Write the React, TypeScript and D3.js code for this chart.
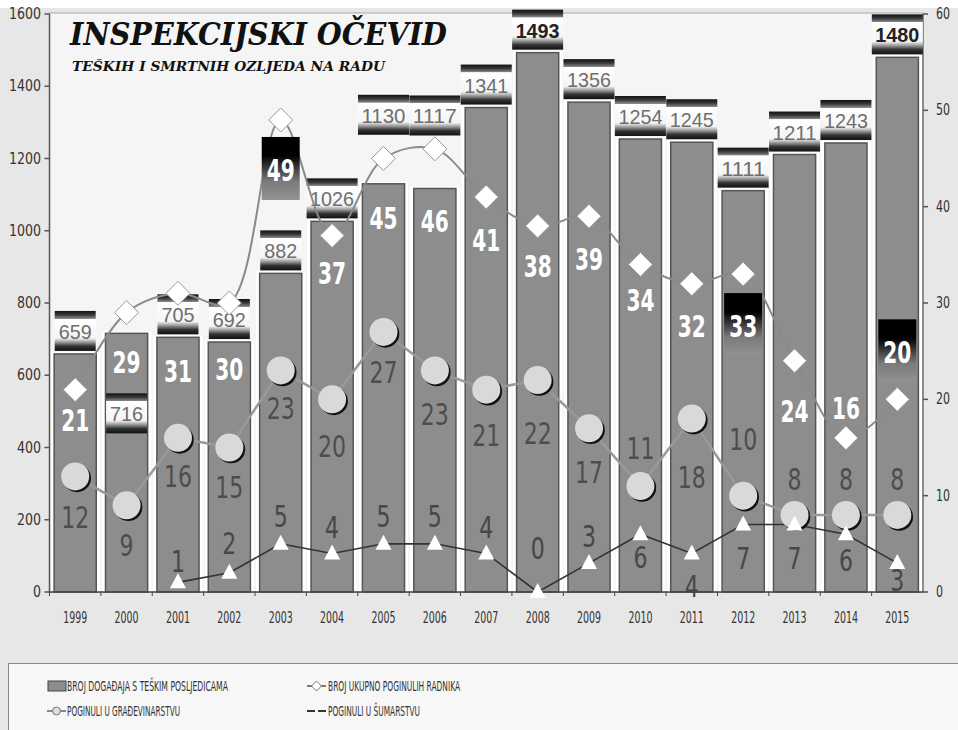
import React from 'react';
import * as d3 from 'd3';

const years = ['1999','2000','2001','2002','2003','2004','2005','2006','2007','2008','2009','2010','2011','2012','2013','2014','2015'];
const accidents = [659,716,705,692,882,1026,1130,1117,1341,1493,1356,1254,1245,1111,1211,1243,1480];
const totalDeaths = [21,29,31,30,49,37,45,46,41,38,39,34,32,33,24,16,20];
const constructionDeaths = [12,9,16,15,23,20,27,23,21,22,17,11,18,10,8,8,8];
const forestryDeaths: (number | null)[] = [null,null,1,2,5,4,5,5,4,0,3,6,4,7,7,6,3];
const leftTicks = [0,200,400,600,800,1000,1200,1400,1600];
const rightTicks = [0,10,20,30,40,50,60];
const highlightedTotalYears = ['2003','2012','2015'];

const titleText = 'INSPEKCIJSKI OČEVID';
const subtitleText = 'TEŠKIH I SMRTNIH OZLJEDA NA RADU';
const legendBars = 'BROJ DOGAĐAJA S TEŠKIM POSLJEDICAMA';
const legendTotal = 'BROJ UKUPNO POGINULIH RADNIKA';
const legendConstruction = 'POGINULI U GRAĐEVINARSTVU';
const legendForestry = 'POGINULI U ŠUMARSTVU';

// label placement nudges (px), layout only
const barLabelShift = [0,103,0,0,0,0,-46,-50,0,0,0,0,0,0,0,0,0];
const totalLabelDy = [30,49,77,66,50,37,59,72,43,40,43,35,42,52,50,-30,-47];
const constructionLabelDy = [40,40,38,39,37,47,40,43,45,53,44,-38,58,-57,-36,-36,-36];
const forestryLabelDy = [0,0,-22,-30,-28,-27,-28,-28,-27,-44,-27,23,32,33,33,26,17];

const NARROW = "'Liberation Sans Narrow', 'DejaVu Sans Condensed', 'Arial Narrow', sans-serif";
const SANS = "'Liberation Sans', Arial, sans-serif";
const SERIF = "'DejaVu Serif', 'Liberation Serif', serif";

export default function App() {
  const W = 958, H = 730;
  const x0 = 49.5, x1 = 923, yTop = 14, yBot = 592;
  const x = d3.scaleBand<string>().domain(years).range([x0, x1]).paddingInner(0.18).paddingOuter(0.09);
  const yL = d3.scaleLinear().domain([0, 1600]).range([yBot, yTop]);
  const yR = d3.scaleLinear().domain([0, 60]).range([yBot, yTop]);
  const step = x.step();
  const bw = x.bandwidth();
  const cx = (i: number) => (x(years[i]) as number) + bw / 2;

  const totalLine = d3.line<number>().x((_, i) => cx(i)).y(d => yR(d)).curve(d3.curveCatmullRom.alpha(0.5));
  const consLine = d3.line<number>().x((_, i) => cx(i)).y(d => yR(d));
  const forLine = d3.line<number | null>().defined(d => d != null).x((_, i) => cx(i)).y(d => yR(d as number));

  const bigFs = 31;
  const base = (c: number, fs: number) => c + fs * 0.36;
  const bigLen = (v: number) => String(v).length * 14;

  return (
    <svg width={W} height={H} style={{ position: 'absolute', left: 0, top: 0, display: 'block' }}>
      <defs>
        <linearGradient id="lblGrad" x1="0" y1="0" x2="0" y2="1">
          <stop offset="0" stopColor="#111" />
          <stop offset="0.1" stopColor="#3a3a3a" />
          <stop offset="0.19" stopColor="#8a8a8a" />
          <stop offset="0.2" stopColor="#ffffff" />
          <stop offset="0.68" stopColor="#f4f4f4" />
          <stop offset="0.78" stopColor="#9a9a9a" />
          <stop offset="0.88" stopColor="#333" />
          <stop offset="1" stopColor="#111" />
        </linearGradient>
        <linearGradient id="hiGrad" x1="0" y1="0" x2="0" y2="1">
          <stop offset="0" stopColor="#000" />
          <stop offset="0.3" stopColor="#000" />
          <stop offset="0.7" stopColor="#7a7a7a" />
          <stop offset="1" stopColor="#929292" />
        </linearGradient>
      </defs>

      {/* backgrounds */}
      <rect x={0} y={0} width={W} height={H} fill="#ffffff" />
      <rect x={0} y={8} width={W} height={H - 8} fill="#e7e7e7" />
      <rect x={x0} y={yTop - 1} width={x1 - x0} height={yBot - yTop + 1} fill="#f5f5f5" stroke="#aaa" strokeWidth={1} />

      {/* white band backgrounds */}
      {accidents.map((v, i) => (
        <rect key={'wb' + i} x={(x(years[i]) as number) - (step - bw) / 2 + 1} y={yL(v) - 2} width={step - 2} height={yBot - yL(v) + 2} fill="#ffffff" />
      ))}

      {/* bars */}
      {accidents.map((v, i) => (
        <rect key={'b' + i} x={x(years[i]) as number} y={yL(v)} width={bw} height={yBot - yL(v)} fill="#8d8d8d" stroke="#555" strokeWidth={1.5} />
      ))}

      {/* axes */}
      <line x1={x0} x2={x0} y1={yTop} y2={yBot} stroke="#555" strokeWidth={1.5} />
      <line x1={x1} x2={x1} y1={yTop} y2={yBot} stroke="#777" strokeWidth={1.5} />
      <line x1={x0} x2={x1} y1={yBot} y2={yBot} stroke="#444" strokeWidth={1.5} />
      {leftTicks.map(t => (
        <g key={'lt' + t}>
          <line x1={x0 - 5} x2={x0} y1={yL(t)} y2={yL(t)} stroke="#555" strokeWidth={1.5} />
          <text x={41} y={yL(t) + 5} textAnchor="end" fontFamily={NARROW} fontSize={15} fill="#333"
            textLength={String(t).length * 8} lengthAdjust="spacingAndGlyphs">{t}</text>
        </g>
      ))}
      {rightTicks.map(t => (
        <g key={'rt' + t}>
          <line x1={x1} x2={x1 + 5} y1={yR(t)} y2={yR(t)} stroke="#555" strokeWidth={1.5} />
          <text x={936} y={yR(t) + 5} textAnchor="start" fontFamily={NARROW} fontSize={15} fill="#333"
            textLength={String(t).length * 7} lengthAdjust="spacingAndGlyphs">{t}</text>
        </g>
      ))}
      {years.map((yr, i) => (
        <g key={'xt' + yr}>
          <line x1={(x(yr) as number) - (step - bw) / 2} x2={(x(yr) as number) - (step - bw) / 2} y1={yBot} y2={yBot + 4} stroke="#444" />
          <text x={cx(i)} y={623} textAnchor="middle" fontFamily={NARROW} fontSize={16} fill="#333"
            textLength={24} lengthAdjust="spacingAndGlyphs">{yr}</text>
        </g>
      ))}

      {/* bar value labels */}
      {accidents.map((v, i) => {
        const s = String(v);
        const w = s.length * 10 + 11;
        const bottom = yL(v) - 3 + barLabelShift[i];
        const top = bottom - 40;
        const strong = v >= 1400;
        return (
          <g key={'bl' + i}>
            <rect x={cx(i) - w / 2} y={top} width={w} height={40} fill="url(#lblGrad)" />
            <text x={cx(i)} y={top + 28} textAnchor="middle" fontFamily={SANS} fontSize={21}
              fontWeight={strong ? 'bold' : 'normal'} fill={strong ? '#222' : '#6e6e6e'}
              textLength={s.length * 11} lengthAdjust="spacingAndGlyphs">{s}</text>
          </g>
        );
      })}

      {/* lines */}
      <path d={totalLine(totalDeaths) || ''} fill="none" stroke="#8a8a8a" strokeWidth={2} />
      <path d={consLine(constructionDeaths) || ''} fill="none" stroke="#999" strokeWidth={2.5} />
      <path d={forLine(forestryDeaths) || ''} fill="none" stroke="#333" strokeWidth={1.6} />

      {/* highlight boxes for total labels */}
      {totalDeaths.map((v, i) => {
        if (!highlightedTotalYears.includes(years[i])) return null;
        const c = yR(v) + totalLabelDy[i];
        return <rect key={'hb' + i} x={cx(i) - 19} y={c - 33} width={38} height={63} fill="url(#hiGrad)" />;
      })}

      {/* markers */}
      {constructionDeaths.map((v, i) => (
        <g key={'cm' + i}>
          <circle cx={cx(i) + 1.8} cy={yR(v) + 1.8} r={14} fill="#111" />
          <circle cx={cx(i)} cy={yR(v)} r={14} fill="#d9d9d9" />
        </g>
      ))}
      {forestryDeaths.map((v, i) => v == null ? null : (
        <path key={'fm' + i} d={`M${cx(i)},${yR(v) - 9}L${cx(i) + 8},${yR(v) + 6}L${cx(i) - 8},${yR(v) + 6}Z`} fill="#ffffff" />
      ))}
      {totalDeaths.map((v, i) => (
        <path key={'dm' + i} d={`M${cx(i)},${yR(v) - 12}L${cx(i) + 12},${yR(v)}L${cx(i)},${yR(v) + 12}L${cx(i) - 12},${yR(v)}Z`} fill="#ffffff" stroke="#999" strokeWidth={1} />
      ))}

      {/* labels */}
      {constructionDeaths.map((v, i) => (
        <text key={'cl' + i} x={cx(i)} y={base(yR(v) + constructionLabelDy[i], bigFs)} textAnchor="middle"
          fontFamily={NARROW} fontSize={bigFs} fill="#4d4d4d"
          textLength={bigLen(v)} lengthAdjust="spacingAndGlyphs">{v}</text>
      ))}
      {forestryDeaths.map((v, i) => v == null ? null : (
        <text key={'fl' + i} x={cx(i)} y={base(yR(v) + forestryLabelDy[i], bigFs)} textAnchor="middle"
          fontFamily={NARROW} fontSize={bigFs} fill="#474747"
          textLength={bigLen(v)} lengthAdjust="spacingAndGlyphs">{v}</text>
      ))}
      {totalDeaths.map((v, i) => (
        <text key={'tl' + i} x={cx(i)} y={base(yR(v) + totalLabelDy[i], bigFs)} textAnchor="middle"
          fontFamily={NARROW} fontWeight="bold" fontSize={bigFs} fill="#ffffff"
          textLength={bigLen(v)} lengthAdjust="spacingAndGlyphs">{v}</text>
      ))}

      {/* title */}
      <text x={70} y={45} fontFamily={SERIF} fontWeight="bold" fontStyle="italic" fontSize={31} fill="#111"
        textLength={377} lengthAdjust="spacingAndGlyphs">{titleText}</text>
      <text x={72} y={71} fontFamily={SERIF} fontWeight="bold" fontStyle="italic" fontSize={13} fill="#111"
        textLength={313} lengthAdjust="spacingAndGlyphs">{subtitleText}</text>

      {/* legend */}
      <rect x={8.5} y={663.5} width={W} height={70} fill="#f7f7f7" stroke="#888" strokeWidth={1} />
      <rect x={48} y={681} width={18} height={10} fill="#8d8d8d" stroke="#444" strokeWidth={1} />
      <text x={67} y={691} fontFamily={NARROW} fontSize={14} fill="#333" textLength={161} lengthAdjust="spacingAndGlyphs">{legendBars}</text>

      <line x1={307} x2={326} y1={686} y2={686} stroke="#777" strokeWidth={2} />
      <path d="M316.5,681L321.5,686L316.5,691L311.5,686Z" fill="#fff" stroke="#777" />
      <text x={328} y={691} fontFamily={NARROW} fontSize={14} fill="#333" textLength={132} lengthAdjust="spacingAndGlyphs">{legendTotal}</text>

      <line x1={47} x2={66} y1={711} y2={711} stroke="#888" strokeWidth={2} />
      <circle cx={56.5} cy={711} r={4} fill="#ddd" stroke="#777" />
      <text x={67} y={716} fontFamily={NARROW} fontSize={14} fill="#333" textLength={113} lengthAdjust="spacingAndGlyphs">{legendConstruction}</text>

      <line x1={307} x2={326} y1={711} y2={711} stroke="#333" strokeWidth={2} strokeDasharray="8,3" />
      <text x={328} y={716} fontFamily={NARROW} fontSize={14} fill="#333" textLength={92} lengthAdjust="spacingAndGlyphs">{legendForestry}</text>
    </svg>
  );
}
